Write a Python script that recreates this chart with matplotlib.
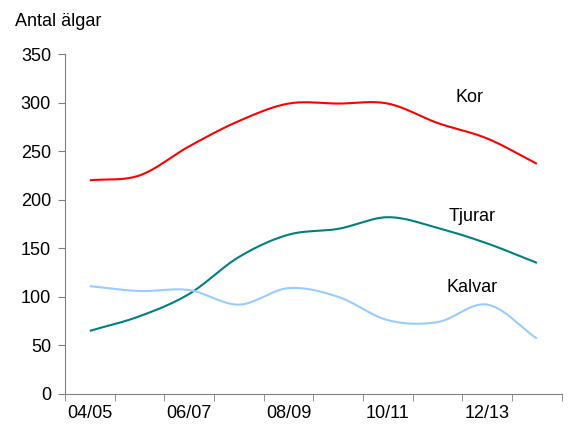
import matplotlib
matplotlib.use("Agg")
import matplotlib.pyplot as plt
import numpy as np

plt.rcParams['font.family'] = ['Liberation Sans', 'DejaVu Sans']

# seasons and counts
seasons = ['04/05', '05/06', '06/07', '07/08', '08/09',
           '09/10', '10/11', '11/12', '12/13', '13/14']
kor = [220, 225, 255, 281, 299, 299, 299, 279, 263, 237]
tjurar = [65, 80, 103, 141, 164, 170, 182, 171, 155, 135]
kalvar = [111, 106, 107, 92, 109, 100, 76, 74, 92, 57]


# smoothed line like the spreadsheet's "smoothed line" option (catmull-rom)
def smooth(y, n=20):
    x = np.arange(len(y), dtype=float)
    y = np.asarray(y, dtype=float)
    px = np.concatenate([[2 * x[0] - x[1]], x, [2 * x[-1] - x[-2]]])
    py = np.concatenate([[2 * y[0] - y[1]], y, [2 * y[-1] - y[-2]]])
    xs, ys = [], []
    t = np.linspace(0, 1, n, endpoint=False)
    for i in range(1, len(px) - 2):
        for p, out in ((px, xs), (py, ys)):
            p0, p1, p2, p3 = p[i - 1], p[i], p[i + 1], p[i + 2]
            out.extend(0.5 * (2 * p1 + (-p0 + p2) * t
                              + (2 * p0 - 5 * p1 + 4 * p2 - p3) * t ** 2
                              + (-p0 + 3 * p1 - 3 * p2 + p3) * t ** 3))
    xs.append(x[-1])
    ys.append(y[-1])
    return np.array(xs), np.array(ys)


fig = plt.figure(figsize=(5.68, 4.24), dpi=100)
ax = fig.add_axes([0.1144, 0.0708, 0.8746, 0.8018])

for vals, col in ((kor, '#FF0000'), (tjurar, '#008080'), (kalvar, '#99CCFF')):
    sx, sy = smooth(vals)
    ax.plot(sx, sy, color=col, lw=1.5, solid_capstyle='butt')

ax.set_xlim(-0.5, len(seasons) - 0.5)
ax.set_ylim(0, 350)
ax.set_yticks(range(0, 351, 50))

ax.set_xticks(range(0, len(seasons), 2))
ax.set_xticklabels(seasons[::2])
ax.set_xticks(np.arange(-0.5, len(seasons), 1), minor=True)
ax.tick_params(axis='x', which='major', length=0, pad=8, labelsize=13)
ax.tick_params(axis='x', which='minor', length=5, color='#808080')
ax.tick_params(axis='y', length=5, color='#808080', pad=5, labelsize=13)

for s in ('top', 'right'):
    ax.spines[s].set_visible(False)
for s in ('left', 'bottom'):
    ax.spines[s].set_color('#808080')

ax.text(7.65, 305, 'Kor', fontsize=13, ha='center', va='center')
ax.text(7.69, 183, 'Tjurar', fontsize=13, ha='center', va='center')
ax.text(7.69, 110, 'Kalvar', fontsize=13, ha='center', va='center')

fig.text(15 / 568, 1 - 22 / 424, 'Antal älgar', fontsize=13, ha='left', va='center')

fig.savefig('out.png', dpi=100)
